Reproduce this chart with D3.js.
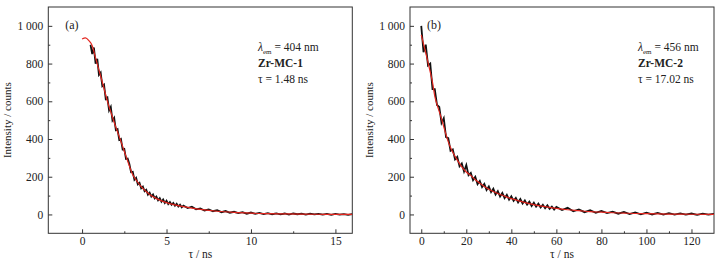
<!DOCTYPE html>
<html><head><meta charset="utf-8">
<script src="https://cdn.jsdelivr.net/npm/d3@7"></script>
<style>
html,body{margin:0;padding:0;background:#fff;}
svg{display:block;}
text{font-family:"Liberation Serif","Times New Roman",serif;fill:#222;}
</style></head>
<body><svg id="c" width="723" height="263"></svg>
<script>
// ---------- data ----------
const yTicks = [0, 200, 400, 600, 800, 1000];
const xTicksA = [0, 5, 10, 15];
const xTicksB = [0, 20, 40, 60, 80, 100, 120];

// panel (a) measured decay
const timeA = [0.5,0.6,0.7,0.8,0.9,1.0,1.1,1.2,1.3,1.4,1.5,1.6,1.7,1.8,1.9,2.0,2.1,2.2,2.3,2.4,2.5,2.6,2.7,2.8,2.9,3.0,3.1,3.2,3.3,3.4,3.5,3.6,3.7,3.8,3.9,4.0,4.1,4.2,4.3,4.4,4.5,4.6,4.7,4.8,4.9,5.0,5.1,5.2,5.3,5.4,5.5,5.6,5.7,5.8,5.9,6.0,6.25,6.5,6.75,7.0,7.25,7.5,7.75,8.0,8.25,8.5,8.75,9.0,9.25,9.5,9.75,10,10.25,10.5,10.75,11,11.25,11.5,11.75,12,12.25,12.5,12.75,13,13.25,13.5,13.75,14,14.25,14.5,14.75,15,15.25,15.5,15.75,16];
const countA = [900,850,885,800,825,740,752,680,688,612,620,552,570,498,512,447,452,395,400,345,348,294,296,268,224,226,184,194,160,168,139,148,123,131,105,115,95,106,85,95,75,86,67,79,61,73,55,66,51,61,46,57,42,52,38,47,34,41,27,32,21,27,17,23,12,18,9,14,7,12,4,10,3,8,2,7,1,6,0,5,-1,5,1,4,-1,4,0,3,-1,3,-2,3,-1,2,-2,2];
// panel (a) fit
const fitTimeA = [0,0.2,0.4,0.6,0.8,1.0,1.25,1.5,1.75,2.0,2.25,2.5,2.75,3.0,3.25,3.5,3.75,4.0,4.5,5.0,5.5,6.0,7,8,9,10,11,12,13,14,15,16];
const fitA = [930,936,922,895,830,765,685,600,530,462,400,335,270,210,176,148,125,106,80,63,51,41,27,17,11,7,4,3,2,1,0,0];

// panel (b) measured decay
const timeB = [0,1,2,3,4,5,6,7,8,9,10,11,12,13,14,15,16,17,18,19,20,21,22,23,24,25,26,27,28,29,30,31,32,33,34,35,36,37,38,39,40,41,42,43,44,45,46,47,48,49,50,51,52,53,54,55,56,57,58,59,60,62.5,65,67.5,70,72.5,75,77.5,80,82.5,85,87.5,90,92.5,95,97.5,100,102.5,105,107.5,110,112.5,115,117.5,120,122.5,125,127.5,130];
const countB = [1000,860,900,790,800,665,665,580,570,485,510,410,405,338,345,292,305,255,270,228,262,208,220,182,200,160,178,145,162,130,148,118,136,106,124,95,114,86,104,78,96,72,88,64,82,58,74,52,68,45,62,41,57,37,51,33,48,30,42,26,40,23,35,17,27,12,22,9,19,7,15,4,13,2,11,1,9,0,8,-1,7,-1,6,-1,5,-2,4,-1,3];
// panel (b) fit
const fitTimeB = [0,1,2,3,4,5,6,7,8,9,10,11,12,13,14,15,16,18,20,22,24,26,28,30,32,34,36,38,40,45,50,55,60,65,70,75,80,85,90,95,100,110,120,130];
const fitB = [952,905,856,806,755,700,628,582,545,507,465,423,385,355,330,308,288,252,225,207,184,165,148,134,122,111,102,92,84,67,52,41,32,25,20,15,12,9,7,5,4,2,1,0];

const labelsA = {tag:"(a)", lam:"404", name:"Zr-MC-1", tau:"1.48"};
const labelsB = {tag:"(b)", lam:"456", name:"Zr-MC-2", tau:"17.02"};

// ---------- drawing ----------
const svg = d3.select("#c");
const pTop = 7, pBottom = 233.3;
const y = d3.scaleLinear().domain([-100, 1100]).range([pBottom, pTop]);
const FONT = "Liberation Serif, Times New Roman, serif";

function panel(opt) {
  const x = d3.scaleLinear().domain(opt.xDomain).range([opt.left, opt.right]);
  const g = svg.append("g");
  g.append("rect").attr("x", opt.left).attr("y", pTop)
    .attr("width", opt.right - opt.left).attr("height", pBottom - pTop)
    .attr("fill", "#fff").attr("stroke", "#333").attr("stroke-width", 1);

  const clipId = "clip" + opt.id;
  svg.append("clipPath").attr("id", clipId).append("rect")
    .attr("x", opt.left).attr("y", pTop).attr("width", opt.right - opt.left).attr("height", pBottom - pTop);

  const xAx = g.append("g").attr("transform", `translate(0,${pBottom})`)
    .call(d3.axisBottom(x).tickValues(opt.xTicks).tickSize(-4).tickPadding(4).tickFormat(d3.format("d")));
  const xMinor = g.append("g").attr("transform", `translate(0,${pBottom})`)
    .call(d3.axisBottom(x).tickValues(opt.xMinor).tickSize(-2).tickFormat(""));
  const fmtY = d => d >= 1000 ? "1 000" : String(d);
  const yAx = g.append("g").attr("transform", `translate(${opt.left},0)`)
    .call(d3.axisLeft(y).tickValues(yTicks).tickSize(-4).tickPadding(5).tickFormat(fmtY));
  const yMinor = g.append("g").attr("transform", `translate(${opt.left},0)`)
    .call(d3.axisLeft(y).tickValues([100,300,500,700,900]).tickSize(-2).tickFormat(""));
  [xAx, xMinor, yAx, yMinor].forEach(a => {
    a.select(".domain").remove();
    a.selectAll("line").attr("stroke", "#333");
    a.selectAll("text").attr("font-family", FONT).attr("font-size", 11.5).attr("fill", "#222");
  });

  const plot = g.append("g").attr("clip-path", `url(#${clipId})`);
  const dataPts = opt.t.map((t, i) => [t, opt.c[i]]);
  const fitPts = opt.ft.map((t, i) => [t, opt.f[i]]);
  plot.append("path").datum(dataPts)
    .attr("d", d3.line().x(d => x(d[0])).y(d => y(d[1])))
    .attr("fill", "none").attr("stroke", "#111").attr("stroke-width", 1.8);
  plot.append("path").datum(fitPts)
    .attr("d", d3.line().curve(d3.curveMonotoneX).x(d => x(d[0])).y(d => y(d[1])))
    .attr("fill", "none").attr("stroke", "#e3261f").attr("stroke-width", 1.2);

  g.append("text").attr("x", opt.left + 17).attr("y", 29).attr("font-size", 12).text(opt.lab.tag);
  const tx = opt.textX;
  const t1 = g.append("text").attr("x", tx).attr("y", 50.5).attr("font-size", 11.5);
  t1.append("tspan").attr("font-style", "italic").text("λ");
  t1.append("tspan").attr("font-size", 7).attr("dy", 3).text("em");
  t1.append("tspan").attr("dy", -3).text(" = " + opt.lab.lam + " nm");
  g.append("text").attr("x", tx).attr("y", 66.5).attr("font-size", 11.5).attr("font-weight", "bold").text(opt.lab.name);
  const t3 = g.append("text").attr("x", tx).attr("y", 83).attr("font-size", 11.5);
  t3.append("tspan").text("τ");
  t3.append("tspan").text(" = " + opt.lab.tau + " ns");

  g.append("text").attr("x", (opt.left + opt.right) / 2).attr("y", 258).attr("text-anchor", "middle").attr("font-size", 11.5)
    .call(s => { s.append("tspan").text("τ"); s.append("tspan").text(" / ns"); });
  g.append("text").attr("transform", `translate(${opt.left - 37},${(pTop + pBottom) / 2}) rotate(-90)`)
    .attr("text-anchor", "middle").attr("font-size", 11).text("Intensity / counts");
}

panel({id:"a", left:48.3, right:352.3, xDomain:[-2,16], xTicks:xTicksA, xMinor:[2.5,7.5,12.5],
  t:timeA, c:countA, ft:fitTimeA, f:fitA, lab:labelsA, textX:258});
panel({id:"b", left:410, right:714, xDomain:[-5,130], xTicks:xTicksB, xMinor:[10,30,50,70,90,110],
  t:timeB, c:countB, ft:fitTimeB, f:fitB, lab:labelsB, textX:638});
</script></body></html>
